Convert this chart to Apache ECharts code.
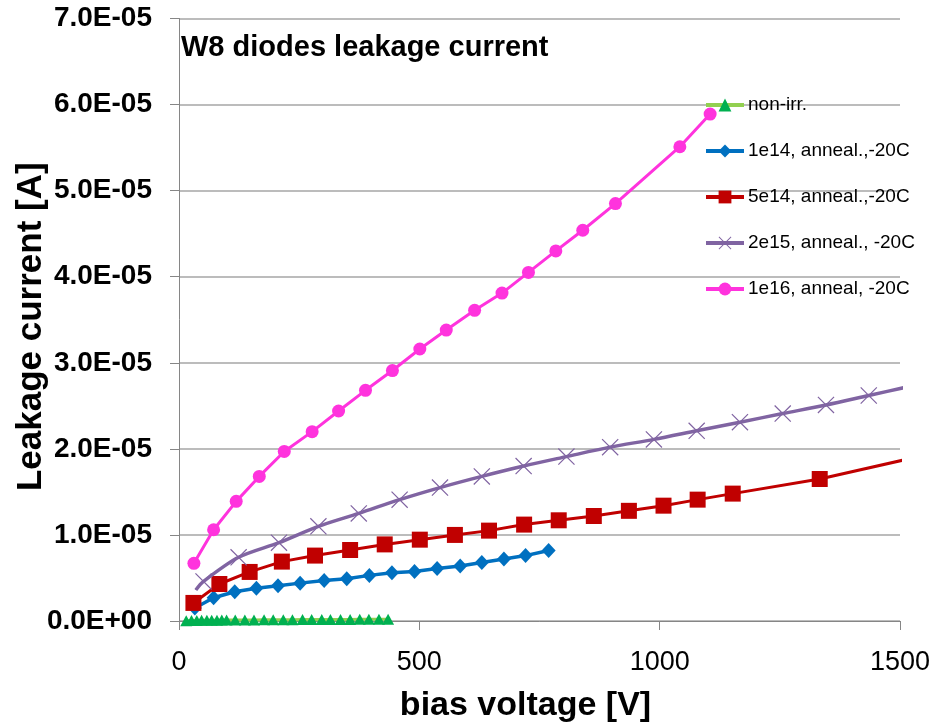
<!DOCTYPE html>
<html>
<head>
<meta charset="utf-8">
<title>W8 diodes leakage current</title>
<script src="https://cdn.jsdelivr.net/npm/echarts@6/dist/echarts.min.js"></script>
<style>
  html, body { margin: 0; padding: 0; background: #ffffff; }
  #chart { width: 939px; height: 728px; }
</style>
</head>
<body>
<div id="chart"></div>
<script>
// Bias voltage [V] and leakage current [A] per diode type
var nonIrrV = [15, 26, 37, 47, 58, 68, 79, 89, 99, 117, 137, 156, 177, 196, 217, 236, 257, 276, 297, 315, 336, 356, 376, 395, 416, 435];
var nonIrrI = [4e-8, 6e-8, 7e-8, 8e-8, 9e-8, 1.0e-7, 1.0e-7, 1.1e-7, 1.1e-7, 1.2e-7, 1.3e-7, 1.3e-7, 1.4e-7, 1.4e-7, 1.5e-7, 1.5e-7, 1.6e-7, 1.6e-7, 1.7e-7, 1.7e-7, 1.8e-7, 1.8e-7, 1.9e-7, 1.9e-7, 2.0e-7, 2.1e-7];

var f1e14V = [33, 72, 116, 161, 206, 252, 302, 349, 396, 443, 490, 537, 585, 630, 676, 721, 769];
var f1e14I = [1.5e-6, 2.7e-6, 3.4e-6, 3.8e-6, 4.1e-6, 4.4e-6, 4.7e-6, 4.9e-6, 5.3e-6, 5.6e-6, 5.75e-6, 6.1e-6, 6.4e-6, 6.8e-6, 7.2e-6, 7.6e-6, 8.2e-6];

var f5e14V = [30, 84, 147, 214, 283, 356, 428, 501, 574, 645, 718, 790, 863, 936, 1008, 1079, 1152, 1333, 1515];
var f5e14I = [2.1e-6, 4.3e-6, 5.7e-6, 6.9e-6, 7.6e-6, 8.25e-6, 8.9e-6, 9.45e-6, 1.00e-5, 1.05e-5, 1.12e-5, 1.17e-5, 1.22e-5, 1.28e-5, 1.34e-5, 1.41e-5, 1.48e-5, 1.65e-5, 1.88e-5];

var f2e15V = [35, 51, 124, 208, 290, 374, 459, 543, 630, 717, 806, 897, 988, 1077, 1167, 1256, 1346, 1435, 1524];
var f2e15I = [3.6e-6, 4.6e-6, 7.4e-6, 9.1e-6, 1.10e-5, 1.25e-5, 1.41e-5, 1.55e-5, 1.68e-5, 1.80e-5, 1.91e-5, 2.02e-5, 2.11e-5, 2.21e-5, 2.31e-5, 2.41e-5, 2.51e-5, 2.62e-5, 2.73e-5];

var f1e16V = [31, 72, 119, 167, 219, 277, 332, 388, 444, 501, 556, 615, 672, 727, 784, 840, 908, 1042, 1105];
var f1e16I = [6.7e-6, 1.06e-5, 1.39e-5, 1.68e-5, 1.97e-5, 2.20e-5, 2.44e-5, 2.68e-5, 2.91e-5, 3.16e-5, 3.38e-5, 3.61e-5, 3.81e-5, 4.05e-5, 4.30e-5, 4.54e-5, 4.85e-5, 5.51e-5, 5.89e-5];

var seriesNames = ['non-irr.', '1e14, anneal.,-20C', '5e14, anneal.,-20C', '2e15, anneal., -20C', '1e16, anneal, -20C'];

function pairs(xs, ys) {
  return xs.map(function (x, i) { return [x, ys[i]]; });
}

// Tick labels like 7.0E-05 / 0.0E+00
function sci(v) {
  if (Math.abs(v) < 1e-12) return '0.0E+00';
  var e = Math.floor(Math.log10(Math.abs(v)) + 1e-9);
  var m = v / Math.pow(10, e);
  return m.toFixed(1) + 'E' + (e < 0 ? '-' : '+') + String(Math.abs(e)).padStart(2, '0');
}

var crossPath = 'path://M0,1 L1,0 L20,19 L19,20 Z M19,0 L20,1 L1,20 L0,19 Z';
var FONT = 'Liberation Sans';

// first 2e15 point is drawn without a marker
var purpleData = pairs(f2e15V, f2e15I);
purpleData[0] = { value: purpleData[0], symbol: 'none' };

var chart = echarts.init(document.getElementById('chart'), null, { renderer: 'canvas' });

chart.setOption({
  animation: false,
  backgroundColor: '#ffffff',
  textStyle: { fontFamily: FONT },
  title: {
    text: 'W8 diodes leakage current',
    left: 181,
    top: 33,
    padding: 0,
    textStyle: { fontFamily: FONT, fontWeight: 'bold', fontSize: 29, color: '#000000' }
  },
  grid: { left: 179, right: 39, top: 18.5, bottom: 107, containLabel: false, outerBoundsMode: 'none' },
  legend: {
    orient: 'vertical',
    left: 704,
    top: 94,
    padding: 0,
    itemWidth: 38,
    itemHeight: 16,
    itemGap: 24,
    lineStyle: { width: 4 },
    textStyle: { fontFamily: FONT, fontSize: 19, color: '#000000', lineHeight: 22, padding: [0, 0, 0, -1] },
    data: seriesNames
  },
  xAxis: {
    type: 'value',
    min: 0,
    max: 1500,
    interval: 500,
    name: 'bias voltage [V]',
    nameLocation: 'middle',
    nameGap: 68,
    nameTextStyle: { fontFamily: FONT, fontWeight: 'bold', fontSize: 34, color: '#000000', padding: [0, 28, 0, 0] },
    axisLine: { show: true, lineStyle: { color: '#868686', width: 1 } },
    axisTick: { show: true, inside: false, length: 9, lineStyle: { color: '#868686' } },
    axisLabel: { fontFamily: FONT, fontSize: 27, color: '#000000', margin: 28, formatter: function (v) { return String(v); } },
    splitLine: { show: false }
  },
  yAxis: {
    type: 'value',
    min: 0,
    max: 7e-5,
    interval: 1e-5,
    name: 'Leakage current [A]',
    nameLocation: 'middle',
    nameGap: 130,
    nameMoveOverlap: false,
    nameTextStyle: { fontFamily: FONT, fontWeight: 'bold', fontSize: 35, color: '#000000', padding: [0, 14, 0, 0] },
    axisLine: { show: true, lineStyle: { color: '#868686', width: 1 } },
    axisTick: { show: true, inside: false, length: 9, lineStyle: { color: '#868686' } },
    axisLabel: { fontFamily: FONT, fontWeight: 'bold', fontSize: 28, color: '#000000', margin: 27, formatter: sci },
    splitLine: { show: true, lineStyle: { color: '#A6A6A6', width: 1.5 } }
  },
  series: [
    {
      name: seriesNames[0],
      type: 'line',
      data: pairs(nonIrrV, nonIrrI),
      symbol: 'triangle',
      symbolSize: [12, 11],
      lineStyle: { color: '#92D050', width: 3 },
      itemStyle: { color: '#00B050' },
      z: 2
    },
    {
      name: seriesNames[1],
      type: 'line',
      data: pairs(f1e14V, f1e14I),
      symbol: 'diamond',
      symbolSize: [14, 15],
      lineStyle: { color: '#0070C0', width: 3.5 },
      itemStyle: { color: '#0070C0' },
      z: 3
    },
    {
      name: seriesNames[2],
      type: 'line',
      data: pairs(f5e14V, f5e14I),
      symbol: 'rect',
      symbolSize: 16,
      lineStyle: { color: '#C00000', width: 3 },
      itemStyle: { color: '#C00000' },
      z: 4
    },
    {
      name: seriesNames[3],
      type: 'line',
      data: purpleData,
      smooth: 0.3,
      symbol: crossPath,
      symbolSize: 17,
      lineStyle: { color: '#8064A2', width: 3.5 },
      itemStyle: { color: '#8064A2' },
      z: 5
    },
    {
      name: seriesNames[4],
      type: 'line',
      data: pairs(f1e16V, f1e16I),
      symbol: 'circle',
      symbolSize: 13,
      lineStyle: { color: '#FF33DD', width: 3 },
      itemStyle: { color: '#FF33DD' },
      z: 6
    }
  ]
});
</script>
</body>
</html>
